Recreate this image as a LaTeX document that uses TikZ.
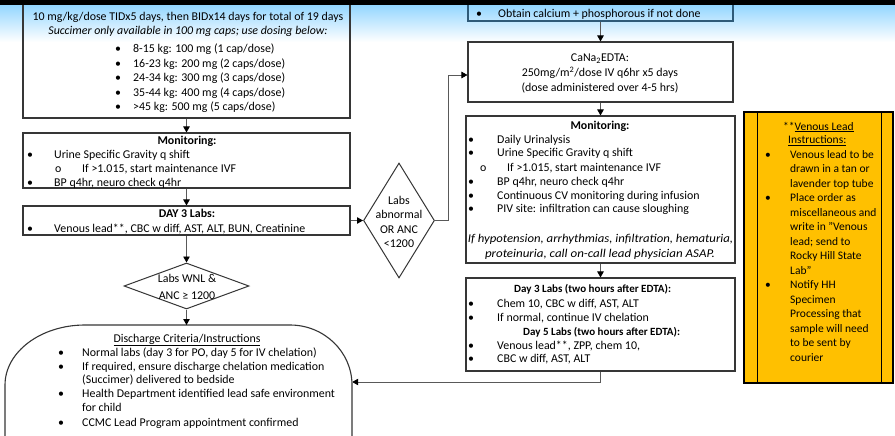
\documentclass[tikz,border=0pt]{standalone}
\usepackage{fontspec}
\setmainfont{Carlito}
\usetikzlibrary{arrows.meta,shapes.geometric}
\definecolor{lineg}{HTML}{595959}
\definecolor{boxc}{HTML}{363636}
\definecolor{skyb}{HTML}{94D6FF}
\definecolor{goldc}{HTML}{FFC000}
\definecolor{obtainc}{HTML}{2E5A78}
\newcommand\mytxt[4]{\node[txt] (#1) at (#2,#3) {#4};}
\newcommand\mytxc[4]{\node[txt,anchor=base] (#1) at (#2,#3) {#4};}
\newcommand\mybul[6]{\node[txt] (#1b) at (#2,#4) {#5};\node[txt] (#1) at (#3,#4) {#6};}
\begin{document}
\begin{tikzpicture}[x=1pt,y=-1pt,
  box/.style={draw=boxc, line width=1.1pt, inner sep=0pt, rectangle},
  dia/.style={draw=boxc, line width=1pt, diamond, inner sep=0pt},
  con/.style={draw=lineg, line width=0.8pt, -{Triangle[length=6pt,width=6.5pt,color=black]}},
  txt/.style={inner sep=0pt, font=\fontsize{11.9}{14.5}\selectfont, anchor=base west, text=black},
  sub/.style={font=\fontsize{11}{14.5}\selectfont\bfseries},
  ytxt/.style={txt, font=\fontsize{11.5}{14.5}\selectfont}
]
\useasboundingbox (0,0) rectangle (895,436);
\fill[white] (0,0) rectangle (895,436);
% header gradient
\shade[top color=skyb, bottom color=white] (0,5) rectangle (895,42);

% ---------- left column ----------
\node[box, minimum width=327pt, minimum height=138pt] (tl) at (186.5,49) {};
\node[box, minimum width=327pt, minimum height=55pt] (lmon) at (186.5,160.5) {};
\node[box, minimum width=327pt, minimum height=29pt] (lday) at (186.5,220.5) {};
\node[dia, minimum width=125pt, minimum height=46pt] (wnl) at (186.5,286) {};
\node[dia, minimum width=71pt, minimum height=115pt] (abn) at (399,220.5) {};
\node[inner sep=0pt, minimum width=347pt, minimum height=114pt] (disch) at (178.5,382) {};
\draw[boxc, line width=1.1pt] (85,325) -- (290,325) .. controls (324.2,325) and (352,351.9) .. (352,385) -- (352,445) -- (5,445) -- (5,385) .. controls (5,351.9) and (40.8,325) .. (85,325) -- cycle;

% ---------- right column ----------
\node[box, draw=obtainc, minimum width=265pt, minimum height=41pt] (obt) at (600.5,0.5) {};
\node[box, minimum width=265pt, minimum height=60pt] (cana) at (600.5,72) {};
\node[box, minimum width=269pt, minimum height=147pt] (rmon) at (600.5,189.5) {};
\node[box, minimum width=269pt, minimum height=93pt] (rday) at (600.5,324.5) {};
\node[box, draw=black, fill=goldc, minimum width=149pt, minimum height=271pt] (vl) at (818.5,247.5) {};
\draw[black, line width=1.1pt] ([xshift=14pt]vl.north west) -- ([xshift=14pt]vl.south west);
\draw[black, line width=1.1pt] ([xshift=-12pt]vl.north east) -- ([xshift=-12pt]vl.south east);

% ---------- connectors ----------
\draw[con] (tl.south) -- (lmon.north);
\draw[con] (lmon.south) -- (lday.north);
\draw[con] (lday.south) -- (wnl.north);
\draw[con] (wnl.south) -- (wnl.south |- 0,325);
\draw[con] (lday.east) -- (abn.west);
\draw[con] (abn.east) -- ++(13,0) |- ([yshift=-3pt]cana.west);
\draw[con] (obt.south) -- (cana.north);
\draw[con] (cana.south) -- (rmon.north);
\draw[con] (rmon.south) -- (rday.north);
\draw[con] (rday.south) |- (disch.east);

% top black bar
\fill[black] (0,0) rectangle (895,5);

% ---------- texts: top-left ----------
\mytxc{s1}{188}{21}{10 mg/kg/dose TIDx5 days, then BIDx14 days for total of 19 days}
\mytxc{s2}{188}{35}{\itshape Succimer only available in 100 mg caps; use dosing below:}
\mybul{s3}{115}{133}{52.5}{•}{8-15 kg: 100 mg (1 cap/dose)}
\mybul{s4}{115}{133}{67}{•}{16-23 kg: 200 mg (2 caps/dose)}
\mybul{s5}{115}{133}{81.5}{•}{24-34 kg: 300 mg (3 caps/dose)}
\mybul{s6}{115}{133}{96}{•}{35-44 kg: 400 mg (4 caps/dose)}
\mybul{s7}{115}{133}{110.5}{•}{>45 kg: 500 mg (5 caps/dose)}

\mytxc{m1}{187}{144}{\bfseries Monitoring:}
\mybul{m2}{27}{54}{158}{•}{Urine Specific Gravity q shift}
\mybul{m3}{55}{82}{172}{o}{If >1.015, start maintenance IVF}
\mybul{m4}{27}{54}{186}{•}{BP q4hr, neuro check q4hr}

\mytxc{d1}{187}{217}{\bfseries DAY 3 Labs:}
\mybul{d2}{27}{54}{232}{•}{Venous lead**, CBC w diff, AST, ALT, BUN, Creatinine}

\node[txt, anchor=center, align=center] (abnt) at (399,222) {Labs\\abnormal\\OR ANC\\<1200};
\node[txt, anchor=center, align=center] (wnlt) at (187,287) {Labs WNL \&\\[2pt]ANC ≥ 1200};

\mytxc{x1}{187}{342}{\underline{Discharge Criteria/Instructions}}
\mybul{x2}{58}{82}{356}{•}{Normal labs (day 3 for PO, day 5 for IV chelation)}
\mybul{x3}{58}{82}{370}{•}{If required, ensure discharge chelation medication}
\mytxt{x4}{82}{383.5}{(Succimer) delivered to bedside}
\mybul{x5}{58}{82}{397.5}{•}{Health Department identified lead safe environment}
\mytxt{x6}{82}{411.5}{for child}
\mybul{x7}{58}{82}{426}{•}{CCMC Lead Program appointment confirmed}

% ---------- texts: right ----------
\mybul{o1}{476}{498}{18}{•}{Obtain calcium + phosphorous if not done}
\mytxc{c1}{600}{62}{CaNa\textsubscript{2}EDTA:}
\mytxc{c2}{600}{77}{250mg/m\textsuperscript{2}/dose IV q6hr x5 days}
\mytxc{c3}{600}{92}{(dose administered over 4-5 hrs)}

\mytxc{r1}{600}{129}{\bfseries Monitoring:}
\mybul{r2}{468}{497}{143}{•}{Daily Urinalysis}
\mybul{r3}{468}{497}{157}{•}{Urine Specific Gravity q shift}
\mybul{r4}{480}{507}{171}{o}{If >1.015, start maintenance IVF}
\mybul{r5}{468}{497}{185}{•}{BP q4hr, neuro check q4hr}
\mybul{r6}{468}{497}{199}{•}{Continuous CV monitoring during infusion}
\mybul{r7}{468}{497}{212.5}{•}{PIV site: infiltration can cause sloughing}
\mytxc{r8}{600.5}{242}{\scalebox{1.07}[1]{\itshape If hypotension, arrhythmias, infiltration, hematuria,}}
\mytxc{r9}{600}{257}{\scalebox{1.09}[1]{\itshape proteinuria, call on-call lead physician ASAP.}}

\node[txt, sub] (y1) at (514,292) {Day 3 Labs (two hours after EDTA):};
\mybul{y2}{468}{497}{307}{•}{Chem 10, CBC w diff, AST, ALT}
\mybul{y3}{468}{497}{321}{•}{If normal, continue IV chelation}
\node[txt, sub] (y4) at (523,335) {Day 5 Labs (two hours after EDTA):};
\mybul{y5}{468}{497}{349}{•}{Venous lead**, ZPP, chem 10,}
\mybul{y6}{468}{497}{362.5}{•}{CBC w diff, AST, ALT}

% ---------- texts: yellow ----------
\node[ytxt] (v1) at (783,130) {**\underline{Venous Lead}};
\node[ytxt] (v2) at (788,143.5) {\underline{Instructions:}};
\node[ytxt] (v3b) at (765,158) {•};
\node[ytxt] (v3) at (790,158) {Venous lead to be};
\node[ytxt] (v4) at (790,172.5) {drawn in a tan or};
\node[ytxt] (v5) at (790,187) {lavender top tube};
\node[ytxt] (v6b) at (765,201.5) {•};
\node[ytxt] (v6) at (790,201.5) {Place order as};
\node[ytxt] (v7) at (790,216) {miscellaneous and};
\node[ytxt] (v8) at (790,230.5) {write in "Venous};
\node[ytxt] (v9) at (790,245) {lead; send to};
\node[ytxt] (v10) at (790,259.5) {Rocky Hill State};
\node[ytxt] (v11) at (790,274) {Lab"};
\node[ytxt] (v12b) at (765,288.5) {•};
\node[ytxt] (v12) at (790,288.5) {Notify HH};
\node[ytxt] (v13) at (790,303) {Specimen};
\node[ytxt] (v14) at (790,317.5) {Processing that};
\node[ytxt] (v15) at (790,332) {sample will need};
\node[ytxt] (v16) at (790,346.5) {to be sent by};
\node[ytxt] (v17) at (790,361) {courier};
\end{tikzpicture}
\end{document}
